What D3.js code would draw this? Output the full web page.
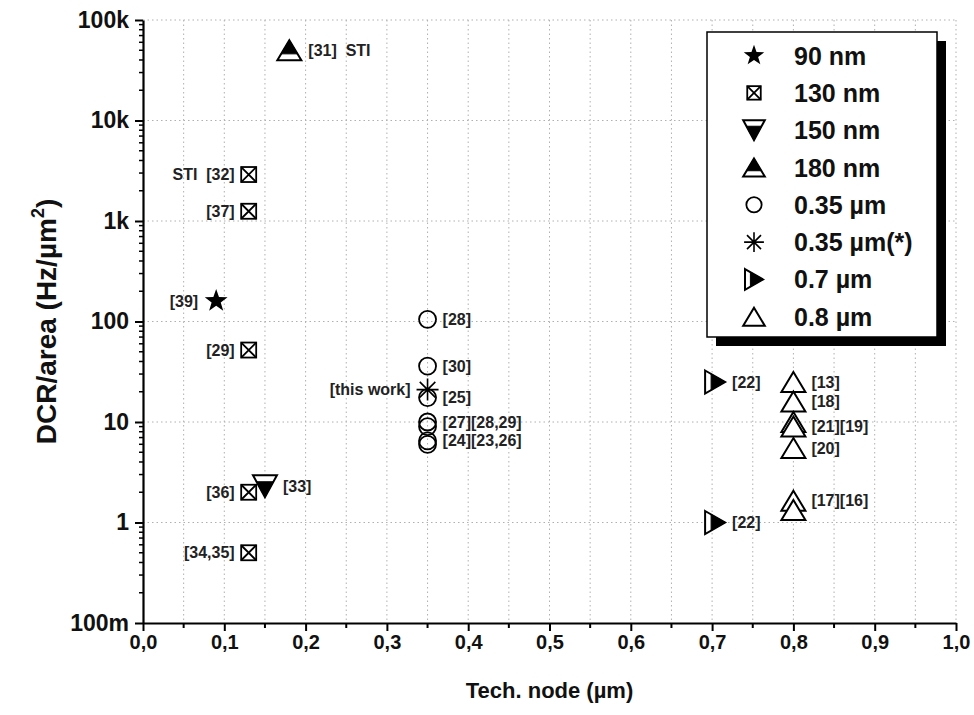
<!DOCTYPE html>
<html><head><meta charset="utf-8">
<script src="https://cdn.jsdelivr.net/npm/d3@7"></script>
<style>
body{margin:0;background:#fff}
text{font-family:"Liberation Sans",Arial,Helvetica,sans-serif;font-weight:bold}
</style></head>
<body><svg id="c" width="974" height="715"></svg>
<script>
// ---- data ----
const seriesNames = ["90 nm","130 nm","150 nm","180 nm","0.35 \u00b5m","0.35 \u00b5m(*)","0.7 \u00b5m","0.8 \u00b5m"];
const markerTypes = ["star","squareX","triDownHalf","triUpHalf","circle","asterisk","triRightHalf","triUp"];
const techNode = [0.09, 0.13, 0.15, 0.18, 0.35, 0.35, 0.70, 0.80];

const dcr90  = [160];
const lab90  = ["[39]"];
const side90 = ["L"];

const dcr130  = [2900, 1250, 52, 2, 0.5];
const lab130  = ["STI  [32]", "[37]", "[29]", "[36]", "[34,35]"];
const side130 = ["L","L","L","L","L"];

const dcr150  = [2.3];
const lab150  = ["[33]"];
const side150 = ["R"];

const dcr180  = [50000];
const lab180  = ["[31]  STI"];
const side180 = ["R"];

const dcr035  = [105, 36, 17.5, 10, 9, 6.5, 6];
const lab035  = ["[28]", "[30]", "[25]", "[27][28,29]", "", "[24][23,26]", ""];
const side035 = ["R","R","R","R","R","R","R"];

const dcr035s  = [21];
const lab035s  = ["[this work]"];
const side035s = ["L"];

const dcr07  = [25, 1];
const lab07  = ["[22]", "[22]"];
const side07 = ["R","R"];

const dcr08  = [25, 16, 10, 9, 5.5, 1.65, 1.33];
const lab08  = ["[13]", "[18]", "", "[21][19]", "[20]", "[17][16]", ""];
const side08 = ["R","R","R","R","R","R","R"];

const seriesValues = [dcr90, dcr130, dcr150, dcr180, dcr035, dcr035s, dcr07, dcr08];
const seriesLabels = [lab90, lab130, lab150, lab180, lab035, lab035s, lab07, lab08];
const seriesSides  = [side90, side130, side150, side180, side035, side035s, side07, side08];

const xTicks = [0,0.1,0.2,0.3,0.4,0.5,0.6,0.7,0.8,0.9,1.0];
const yTicks = [0.1,1,10,100,1000,10000,100000];
const yTickLabels = ["100m","1","10","100","1k","10k","100k"];

// ---- layout ----
const svg = d3.select("#c");
const L = 143, R = 956, T = 20, B = 623;
const x = d3.scaleLinear().domain([0,1]).range([L,R]);
const y = d3.scaleLog().domain([0.1,100000]).range([B,T]);

// grid
const g = svg.append("g");
const xGrid = d3.range(1,21).map(i => i*0.05);
g.selectAll("line.vg").data(xGrid).join("line")
  .attr("x1", d=>x(d)).attr("x2", d=>x(d)).attr("y1", T).attr("y2", B)
  .attr("stroke","#b0b0b0").attr("stroke-width",1).attr("stroke-dasharray","1.5,3");
g.selectAll("line.hg").data(yTicks.slice(1)).join("line")
  .attr("x1", L).attr("x2", R).attr("y1", d=>y(d)).attr("y2", d=>y(d))
  .attr("stroke","#b0b0b0").attr("stroke-width",1).attr("stroke-dasharray","1.5,3");

// axes
const xAxis = d3.axisBottom(x).tickValues(xTicks).tickSize(8).tickSizeOuter(0)
  .tickFormat(d => d3.format(".1f")(d).replace(".", ","));
const xa = svg.append("g").attr("transform",`translate(0,${B})`).call(xAxis);
xa.select(".domain").attr("stroke","#000").attr("stroke-width",2.2);
xa.selectAll(".tick line").attr("stroke-width",2);
xa.selectAll(".tick text").attr("font-size",20).attr("fill","#111").attr("y",12)
  .style("font-family","'Liberation Sans Narrow','Liberation Sans',Arial,sans-serif");
const xMinor = d3.range(0,10).map(i => i*0.1+0.05);
svg.append("g").selectAll("line").data(xMinor).join("line")
  .attr("x1",d=>x(d)).attr("x2",d=>x(d)).attr("y1",B).attr("y2",B+5)
  .attr("stroke","#000").attr("stroke-width",2);

const yAxis = d3.axisLeft(y).tickValues(yTicks).tickSize(8).tickSizeOuter(0)
  .tickFormat((d,i) => yTickLabels[i]);
const ya = svg.append("g").attr("transform",`translate(${L},0)`).call(yAxis);
ya.select(".domain").attr("stroke","#000").attr("stroke-width",2.2);
ya.selectAll(".tick line").attr("stroke-width",2);
ya.selectAll(".tick text").attr("font-size",23).attr("fill","#111").attr("x",-14);
const yMinor = [];
for (let e=-1; e<5; e++) for (let k=2; k<10; k++) yMinor.push(k*Math.pow(10,e));
svg.append("g").selectAll("line").data(yMinor).join("line")
  .attr("x1",L-4).attr("x2",L).attr("y1",d=>y(d)).attr("y2",d=>y(d))
  .attr("stroke","#000").attr("stroke-width",1.5);

// axis titles
svg.append("text").attr("x",(L+R)/2).attr("y",698).attr("text-anchor","middle")
  .attr("font-size",22).attr("fill","#111").text("Tech. node (\u00b5m)");
const yt = svg.append("text").attr("transform",`translate(56,${(T+B)/2}) rotate(-90)`)
  .attr("text-anchor","middle").attr("font-size",28).attr("fill","#111");
yt.append("tspan").text("DCR/area (Hz/\u00b5m");
yt.append("tspan").attr("font-size",18).attr("dy",-12).text("2");
yt.append("tspan").attr("dy",12).text(")");

// ---- markers ----
function drawMarker(sel, type, cx, cy, s) {
  const gg = sel.append("g").attr("transform",`translate(${cx},${cy})`);
  const sw = 1.8;
  if (type === "star") {
    const pts = [];
    for (let i=0;i<10;i++){
      const r = i%2===0 ? 12*s : 4.8*s;
      const a = -Math.PI/2 + i*Math.PI/5;
      pts.push([r*Math.cos(a), r*Math.sin(a)]);
    }
    gg.append("polygon").attr("points",pts.map(p=>p.join(",")).join(" ")).attr("fill","#000");
  } else if (type === "squareX") {
    const h = 7.5*s;
    gg.append("rect").attr("x",-h).attr("y",-h).attr("width",2*h).attr("height",2*h)
      .attr("fill","#fff").attr("stroke","#000").attr("stroke-width",sw);
    gg.append("path").attr("d",`M${-h},${-h}L${h},${h}M${h},${-h}L${-h},${h}`)
      .attr("stroke","#000").attr("stroke-width",sw);
  } else if (type === "circle") {
    gg.append("circle").attr("r",8.5*s).attr("fill","none").attr("stroke","#000").attr("stroke-width",sw);
  } else if (type === "asterisk") {
    const r = 11*s, d = r*Math.SQRT1_2;
    gg.append("path").attr("d",`M0,${-r}L0,${r}M${-r},0L${r},0M${-d},${-d}L${d},${d}M${d},${-d}L${-d},${d}`)
      .attr("stroke","#000").attr("stroke-width",1.6);
  } else if (type === "triUp" || type === "triUpHalf") {
    const w = 12*s, h = 10*s;
    gg.append("polygon").attr("points",`0,${-h} ${w},${h} ${-w},${h}`)
      .attr("fill","#fff").attr("stroke","#000").attr("stroke-width",2).attr("stroke-linejoin","miter");
    if (type === "triUpHalf") {
      const f = 0.68, yy = -h + f*2*h, ww = w*f;
      gg.append("polygon").attr("points",`0,${-h} ${ww},${yy} ${-ww},${yy}`).attr("fill","#000")
        .attr("stroke","#000").attr("stroke-width",1);
    }
  } else if (type === "triDownHalf") {
    const w = 12*s, h = 11*s;
    gg.append("polygon").attr("points",`${-w},${-h} ${w},${-h} 0,${h}`)
      .attr("fill","#fff").attr("stroke","#000").attr("stroke-width",2);
    const f = 0.7, yy = h - f*2*h, ww = w*f;
    gg.append("polygon").attr("points",`${-ww},${yy} ${ww},${yy} 0,${h}`).attr("fill","#000")
      .attr("stroke","#000").attr("stroke-width",1);
  } else if (type === "triRightHalf") {
    const w = 10*s, h = 11.5*s;
    gg.append("polygon").attr("points",`${-w},${-h} ${w},0 ${-w},${h}`)
      .attr("fill","#fff").attr("stroke","#000").attr("stroke-width",2);
    const f = 0.7, xx = w - f*2*w, hh = h*f;
    gg.append("polygon").attr("points",`${xx},${-hh} ${w},0 ${xx},${hh}`).attr("fill","#000")
      .attr("stroke","#000").attr("stroke-width",1);
  }
}
const labelGap = {star:18, squareX:14, triDownHalf:18, triUpHalf:19, circle:15, asterisk:17, triRightHalf:20, triUp:18};
const xShift = {triRightHalf:3};

const pg = svg.append("g");
const lg = svg.append("g");
seriesValues.forEach((vals, si) => {
  const type = markerTypes[si];
  vals.forEach((v, i) => {
    const cx = x(techNode[si]) + (xShift[type]||0), cy = y(v);
    drawMarker(pg, type, cx, cy, 1);
    const lab = seriesLabels[si][i];
    if (lab) {
      const side = seriesSides[si][i];
      lg.append("text")
        .attr("x", side === "R" ? x(techNode[si]) + labelGap[type] : x(techNode[si]) - labelGap[type])
        .attr("y", cy).attr("dy","0.35em")
        .attr("text-anchor", side === "R" ? "start" : "end")
        .attr("font-size",16).attr("fill","#222")
        .style("white-space","pre").attr("xml:space","preserve")
        .text(lab);
    }
  });
});

// ---- legend ----
const lx = 707, ly = 32, lw = 230, lh = 305;
svg.append("rect").attr("x",lx+9).attr("y",ly+9).attr("width",lw).attr("height",lh).attr("fill","#000");
svg.append("rect").attr("x",lx).attr("y",ly).attr("width",lw).attr("height",lh)
  .attr("fill","#fff").attr("stroke","#000").attr("stroke-width",1.5);
seriesNames.forEach((n, i) => {
  const cy = 55.6 + i*37.3;
  drawMarker(svg, markerTypes[i], 754, cy, 0.9);
  svg.append("text").attr("x",794).attr("y",cy).attr("dy","0.36em")
    .attr("font-size",25).attr("fill","#111").text(n);
});
</script>
</body></html>
